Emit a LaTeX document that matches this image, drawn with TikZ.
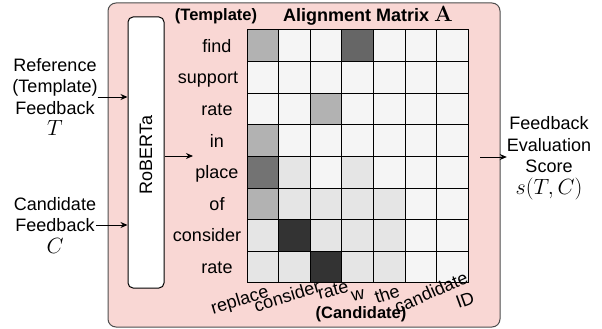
\RequirePackage{fix-cm}
\documentclass[tikz,border=0pt]{standalone}
\usepackage[no-math]{fontspec}
\setmainfont{Liberation Sans}
\usepackage{xcolor}
\usetikzlibrary{positioning, arrows.meta, calc}
\definecolor{panelpink}{HTML}{F9D7D4}
\definecolor{panelline}{HTML}{4D4D4D}
\newcommand{\largemath}[1]{{\fontsize{22}{22}\selectfont$#1$}}

\begin{document}
\begin{tikzpicture}[
  x=1pt, y=-1pt,
  font=\fontsize{18}{21.5}\selectfont,
  panel/.style={draw=panelline, fill=panelpink, rounded corners=8pt, line width=1pt},
  encoder/.style={draw, fill=white, rounded corners=5pt, line width=1pt},
  cell/.style={draw, line width=1pt, minimum size=31.6pt, inner sep=0pt},
  lbl/.style={align=center, inner sep=0pt},
  tok/.style={inner sep=0pt},
  hdr/.style={font=\fontsize{16.5}{20}\selectfont\bfseries, inner sep=0pt},
  arr/.style={-{Stealth[length=7pt, width=6pt]}, line width=1pt},
]
\useasboundingbox (0,0) rectangle (602,329);

% Background panel and encoder
\draw[panel] (108,3) rectangle (500,327);
\node[encoder, minimum width=36pt, minimum height=271pt] (rob) at (146,152.5) {};
\node[rotate=90, inner sep=0pt] (robtxt) at (146,155) {RoBERTa};

% Inputs and output
\node[lbl] (ref) at (55,97) {Reference\\(Template)\\Feedback\\\largemath{T}};
\node[lbl] (cand) at (55,225) {Candidate\\Feedback\\\largemath{C}};
\node[lbl] (score) at (549,158) {Feedback\\Evaluation\\Score\\\largemath{s(T,C)}};

% Headers
\node[hdr] (tmpl) at (216,16) {(Template)};
\node[hdr, font=\fontsize{18}{20}\selectfont\bfseries] (title) at (368,16)
  {Alignment Matrix \largemath{\mathbf{A}}};
\node[hdr] (candh) at (361,314) {(Candidate)};

% Alignment matrix (grey level per cell)
\foreach \shades [count=\r from 0] in {
    {30,4,4,60,4,4,4},
    {4,4,4,4,4,4,4},
    {4,4,30,4,4,4,4},
    {30,4,4,4,4,4,4},
    {55,10,4,10,4,4,4},
    {30,10,10,10,10,4,4},
    {10,80,10,10,10,4,4},
    {10,10,80,10,10,4,4}} {
  \foreach \s [count=\c from 0] in \shades {
    \node[cell, fill=black!\s] (m\r\c) at ({247+31.6*(\c+0.5)}, {30+31.6*(\r+0.5)}) {};
  }
}

% Template tokens (rows)
\foreach \w/\xc [count=\r from 0] in {find/217, support/208, rate/217, in/217,
    place/217, of/217, consider/207, rate/217} {
  \node[tok, anchor=base] (row\r) at (\xc, {30+31.6*(\r+0.5)+6.5}) {\w};
}

% Candidate tokens (columns)
\foreach \w/\xc/\yc/\ang [count=\c from 0] in {replace/240/301/17, consider/287/296/17,
    rate/333/290/15, w/358/295/12, the/387/294/18, candidate/431/292/24, ID/465/300/20} {
  \node[tok, rotate=\ang] (col\c) at (\xc,\yc) {\w};
}

% Connectors
\coordinate (emb) at (193,156);
\coordinate (agg) at (480,157);
\draw[arr] (ref.east) -- (ref.east -| rob.west);
\draw[arr] (cand.east) -- (cand.east -| rob.west);
\draw[arr] (rob.east |- emb) -- (emb);
\draw[arr] (agg) -- (agg -| score.west);
\end{tikzpicture}
\end{document}
